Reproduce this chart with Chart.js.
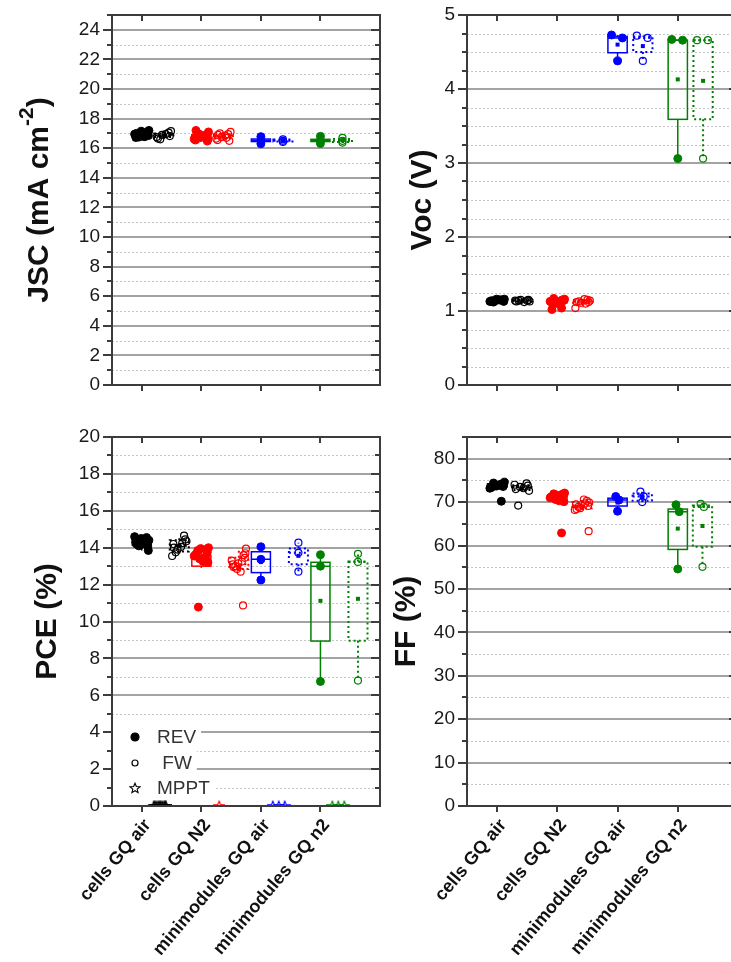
<!DOCTYPE html>
<html>
<head>
<meta charset="utf-8">
<title>GQ cells and minimodules</title>
<script src="https://cdn.jsdelivr.net/npm/chart.js@4.4.0/dist/chart.umd.min.js"></script>
<style>
  html, body { margin: 0; padding: 0; background: #fff; width: 731px; height: 962px; overflow: hidden; }
  canvas { position: absolute; }
</style>
</head>
<body>
<canvas id="jscChart" width="400" height="400" style="left:0;top:0"></canvas>
<canvas id="vocChart" width="380" height="400" style="left:380px;top:0"></canvas>
<canvas id="pceChart" width="400" height="542" style="left:0;top:420px"></canvas>
<canvas id="ffChart" width="380" height="542" style="left:380px;top:420px"></canvas>
<script>
const categories = ['cells GQ air', 'cells GQ N2', 'minimodules GQ air', 'minimodules GQ n2'];
const groupColors = ['#000000', '#ff0000', '#0000ff', '#008000'];
const legendLabels = ['REV', ' FW', 'MPPT'];

// Jsc (mA cm-2), one list per group
const jscRev = [
  [16.72, 17.05, 16.88, 17.2, 16.95, 16.8, 17.12, 16.9, 16.78, 17.0, 16.85, 17.15, 16.92, 16.75],
  [16.55, 16.9, 16.7, 17.1, 16.62, 16.85, 16.48, 16.95, 16.75, 17.2, 16.6, 16.8, 16.68, 16.98],
  [16.78, 16.52, 16.3],
  [16.8, 16.5, 16.32]
];
const jscFw = [
  [16.65, 17.05, 16.9, 17.15, 16.75, 16.95, 16.82, 16.6],
  [16.55, 16.95, 16.75, 17.1, 16.65, 16.85, 16.5, 17.0, 16.7, 16.9],
  [16.6, 16.5, 16.42],
  [16.7, 16.5, 16.38]
];
// box stats: q1, median, q3, whisker low, whisker high, mean
const jscRevBox = [[16.8, 16.9, 17.05, 16.72, 17.2, 16.92], [16.62, 16.75, 16.92, 16.48, 17.2, 16.77], [16.45, 16.52, 16.62, 16.3, 16.78, 16.53], [16.45, 16.5, 16.6, 16.32, 16.8, 16.54]];
const jscFwBox = [[16.75, 16.88, 17.0, 16.6, 17.15, 16.86], [16.65, 16.8, 16.95, 16.5, 17.1, 16.8], [16.45, 16.5, 16.58, 16.42, 16.6, 16.51], [16.42, 16.5, 16.62, 16.38, 16.7, 16.53]];

// Voc (V)
const vocRev = [
  [1.13, 1.15, 1.14, 1.16, 1.13, 1.15, 1.14, 1.12, 1.15, 1.14, 1.13, 1.16],
  [1.12, 1.15, 1.1, 1.16, 1.13, 1.11, 1.14, 1.17, 1.12, 1.02, 1.15, 1.13, 1.04, 1.11],
  [4.73, 4.69, 4.38],
  [4.67, 4.66, 3.06]
];
const vocFw = [
  [1.13, 1.14, 1.15, 1.13, 1.14, 1.12, 1.15, 1.14],
  [1.12, 1.15, 1.11, 1.14, 1.04, 1.16, 1.12, 1.13, 1.1],
  [4.72, 4.69, 4.38],
  [4.66, 4.66, 3.06]
];
const vocRevBox = [[1.13, 1.14, 1.15, 1.12, 1.16, 1.14], [1.11, 1.13, 1.15, 1.08, 1.17, 1.12], [4.49, 4.69, 4.71, 4.38, 4.73, 4.6], [3.59, 4.66, 4.66, 3.06, 4.67, 4.13]];
const vocFwBox = [[1.13, 1.14, 1.15, 1.12, 1.15, 1.14], [1.11, 1.13, 1.15, 1.04, 1.16, 1.12], [4.5, 4.69, 4.71, 4.38, 4.72, 4.58], [3.59, 4.66, 4.66, 3.06, 4.66, 4.11]];

// PCE (%)
const pceRev = [
  [14.3, 14.55, 14.15, 14.4, 14.6, 14.25, 14.05, 14.45, 14.35, 14.2, 13.85, 14.5, 14.3, 14.1],
  [13.6, 13.9, 13.4, 14.0, 13.55, 13.25, 13.75, 13.85, 13.45, 13.65, 13.2, 13.95, 13.5, 10.78],
  [14.05, 13.37, 12.25],
  [13.62, 13.0, 6.75]
];
const pceFw = [
  [14.2, 14.65, 13.9, 14.35, 13.55, 14.05, 14.45, 13.75, 14.25, 14.0],
  [13.1, 13.6, 12.85, 13.95, 13.3, 12.7, 13.45, 13.0, 13.25, 12.95, 13.7, 13.15, 10.87],
  [14.27, 13.72, 12.7],
  [13.67, 13.23, 6.8]
];
const pceMppt = [[0, 0, 0, 0, 0, 0, 0, 0, 0, 0], [0], [0, 0, 0], [0, 0, 0]];
const pceRevBox = [[14.15, 14.3, 14.45, 13.85, 14.65, 14.27], [13.0, 13.4, 13.58, 12.9, 14.0, 13.28], [12.65, 13.37, 13.78, 12.25, 14.05, 13.22], [8.94, 13.0, 13.21, 6.75, 13.62, 11.12]];
const pceFwBox = [[13.8, 14.1, 14.4, 13.55, 14.65, 14.1], [12.85, 13.1, 13.45, 12.7, 13.95, 12.95], [13.1, 13.72, 13.95, 12.7, 14.27, 13.56], [8.96, 13.23, 13.25, 6.8, 13.67, 11.23]];

// FF (%)
const ffRev = [
  [73.5, 74.2, 73.8, 74.6, 73.2, 74.0, 73.6, 74.4, 73.9, 73.4, 74.1, 73.7, 70.2],
  [71.2, 71.8, 70.6, 72.1, 71.0, 70.3, 71.5, 71.9, 70.8, 71.3, 70.1, 71.6, 62.9],
  [71.3, 70.5, 67.9],
  [69.4, 67.8, 54.6]
];
const ffFw = [
  [73.0, 74.3, 73.5, 72.6, 74.0, 73.2, 73.8, 69.2],
  [69.5, 70.3, 68.6, 69.9, 68.2, 70.6, 69.1, 68.9, 69.7, 68.4, 63.3],
  [72.4, 71.3, 70.0],
  [69.6, 68.9, 55.1]
];
const ffRevBox = [[73.4, 73.8, 74.2, 73.0, 74.7, 73.6], [70.6, 71.2, 71.7, 70.0, 72.2, 70.9], [69.1, 70.5, 70.9, 67.9, 71.3, 69.9], [59.1, 67.8, 68.4, 54.6, 69.4, 63.9]];
const ffFwBox = [[72.8, 73.4, 73.9, 72.5, 74.4, 73.2], [68.6, 69.3, 70.0, 68.1, 70.7, 68.9], [70.3, 71.3, 72.0, 70.0, 72.4, 71.2], [59.7, 68.9, 69.2, 55.1, 69.6, 64.5]];

// horizontal scatter of the points around their column
const jitterCells = [-0.1, 0.08, -0.03, 0.12, -0.12, 0.03, 0.1, -0.06, 0.05, -0.09, 0.11, -0.01, 0.07, -0.05];
const jitterModules = [-0.1, 0.08, 0];
const jitterMppt = [0, -0.1, 0.1, -0.05, 0.05, -0.08, 0.08, -0.02, 0.02, 0.1];

const FONT = '"Liberation Sans", Arial, sans-serif';
Chart.defaults.font.family = FONT;

// open five-point star marker, one small canvas per colour
function starMarker(color) {
  const c = document.createElement('canvas');
  c.width = 12; c.height = 12;
  const g = c.getContext('2d');
  g.strokeStyle = color;
  g.lineWidth = 1.1;
  g.beginPath();
  for (let k = 0; k < 10; k++) {
    const r = k % 2 ? 2.3 : 5.2;
    const ang = -Math.PI / 2 + k * Math.PI / 5;
    const px = 6 + r * Math.cos(ang), py = 6.4 + r * Math.sin(ang);
    k ? g.lineTo(px, py) : g.moveTo(px, py);
  }
  g.closePath();
  g.stroke();
  return c;
}
const stars = groupColors.map(starMarker);

const panelPlugin = {
  id: 'panel',
  beforeDatasetsDraw(chart, args, o) {
    const { ctx, chartArea: a, scales: { x, y } } = chart;
    const isMajor = v => Math.abs(v / o.major - Math.round(v / o.major)) < 1e-6;
    ctx.save();
    // dotted minor grid
    ctx.strokeStyle = '#c6c6c6';
    ctx.lineWidth = 1;
    ctx.setLineDash([2, 2]);
    for (let v = o.minor; v < o.max - 1e-6; v += o.minor) {
      if (isMajor(v)) continue;
      const py = Math.round(y.getPixelForValue(v)) + 0.5;
      ctx.beginPath(); ctx.moveTo(a.left, py); ctx.lineTo(a.right, py); ctx.stroke();
    }
    // solid major grid
    ctx.setLineDash([]);
    ctx.strokeStyle = '#a3a3a3';
    ctx.lineWidth = 2;
    for (let v = o.major; v < o.max - 1e-6; v += o.major) {
      const py = Math.round(y.getPixelForValue(v));
      ctx.beginPath(); ctx.moveTo(a.left, py); ctx.lineTo(a.right, py); ctx.stroke();
    }
    // legend block sits on a white patch over the grid
    if (o.legend) {
      ctx.font = '19px ' + FONT;
      ctx.textBaseline = 'middle';
      const rows = [69, 43, 18];
      const styles = [
        { pointStyle: 'circle', radius: 4, fill: true },
        { pointStyle: 'circle', radius: 3, fill: false },
        { pointStyle: stars[0], radius: 5, fill: false }
      ];
      legendLabels.forEach((label, i) => {
        const cy = a.bottom - rows[i];
        const tx = a.left + 45;
        const w = ctx.measureText(label).width;
        ctx.fillStyle = '#fff';
        ctx.fillRect(a.left + 1, cy - 12, tx + w + 4 - a.left, 24);
        ctx.fillStyle = '#333';
        ctx.fillText(label, tx, cy + 1);
        ctx.fillStyle = styles[i].fill ? '#000' : 'rgba(0,0,0,0)';
        ctx.strokeStyle = '#000';
        ctx.lineWidth = 1.2;
        Chart.helpers.drawPoint(ctx, { pointStyle: styles[i].pointStyle, radius: styles[i].radius, rotation: 0, borderWidth: 1.2 }, a.left + 23, cy);
      });
    }
    // boxes: q1..q3 with median, mean and whiskers
    const drawBox = (cx, s, color, dotted) => {
      const half = 0.16;
      const l = x.getPixelForValue(cx - half), r = x.getPixelForValue(cx + half);
      const c = x.getPixelForValue(cx);
      const [q1, med, q3, lo, hi, mean] = s.map(v => y.getPixelForValue(v));
      ctx.strokeStyle = color;
      ctx.fillStyle = color;
      ctx.lineWidth = dotted ? 2 : 1.5;
      ctx.setLineDash(dotted ? [2, 3] : []);
      ctx.strokeRect(l, q3, r - l, q1 - q3);
      ctx.beginPath();
      ctx.moveTo(l, med); ctx.lineTo(r, med);
      ctx.moveTo(c, q1); ctx.lineTo(c, lo);
      ctx.moveTo(c, q3); ctx.lineTo(c, hi);
      ctx.stroke();
      ctx.setLineDash([]);
      ctx.fillRect(c - 2, mean - 2, 4, 4);
    };
    o.revBox.forEach((s, i) => drawBox(i + 1, s, groupColors[i], false));
    o.fwBox.forEach((s, i) => drawBox(i + 1 + o.fwShift, s, groupColors[i], true));
    ctx.restore();
  },
  afterDatasetsDraw(chart, args, o) {
    const { ctx, chartArea: a, scales: { x, y } } = chart;
    const isMajor = v => Math.abs(v / o.major - Math.round(v / o.major)) < 1e-6;
    ctx.save();
    ctx.strokeStyle = '#3c3c3c';
    ctx.lineWidth = 2;
    ctx.strokeRect(a.left, a.top, a.right - a.left, a.bottom - a.top);
    ctx.beginPath();
    for (let v = 0; v <= o.max + 1e-6; v += o.minor) {
      const py = Math.round(y.getPixelForValue(v));
      const len = isMajor(v) ? 9 : 5;
      ctx.moveTo(a.left - len, py); ctx.lineTo(a.left, py);
      ctx.moveTo(a.right, py); ctx.lineTo(a.right - len, py);
    }
    categories.forEach((c, i) => {
      const px = Math.round(x.getPixelForValue(i + 1));
      ctx.moveTo(px, a.top); ctx.lineTo(px, a.top + 6);
      ctx.moveTo(px, a.bottom); ctx.lineTo(px, a.bottom + 6);
    });
    ctx.stroke();
    ctx.restore();
  },
  afterDraw(chart, args, o) {
    // y-axis title, with optional superscript piece
    const { ctx, chartArea: a } = chart;
    ctx.save();
    ctx.translate(o.titleX, (a.top + a.bottom) / 2);
    ctx.rotate(-Math.PI / 2);
    ctx.fillStyle = '#111';
    ctx.textBaseline = 'middle';
    const big = 'bold 30px ' + FONT, small = 'bold 21px ' + FONT;
    let total = 0;
    o.title.forEach(([t, sup]) => { ctx.font = sup ? small : big; total += ctx.measureText(t).width; });
    let u = -total / 2;
    o.title.forEach(([t, sup]) => {
      ctx.font = sup ? small : big;
      ctx.fillText(t, u, sup ? -13 : 0);
      u += ctx.measureText(t).width;
    });
    ctx.restore();
  }
};

function buildPanel(p) {
  const datasets = [];
  const spreadOf = i => i < 2 ? jitterCells : jitterModules.map(j => j * p.moduleSpread);
  p.rev.forEach((vals, i) => {
    const jit = spreadOf(i);
    datasets.push({
      data: vals.map((v, k) => ({ x: i + 1 + jit[k % jit.length], y: v })),
      pointStyle: 'circle', pointRadius: 4, pointBorderWidth: 1,
      backgroundColor: groupColors[i], borderColor: groupColors[i]
    });
  });
  p.fw.forEach((vals, i) => {
    const jit = spreadOf(i);
    datasets.push({
      data: vals.map((v, k) => ({ x: i + 1 + p.fwShift + jit[k % jit.length], y: v })),
      pointStyle: 'circle', pointRadius: 3.5, pointBorderWidth: 1.2,
      backgroundColor: 'rgba(255,255,255,0)', borderColor: groupColors[i]
    });
  });
  (p.mppt || []).forEach((vals, i) => {
    datasets.push({
      data: vals.map((v, k) => ({ x: i + 1 + 0.3 + jitterMppt[k % jitterMppt.length], y: v })),
      pointStyle: stars[i], pointRadius: 5, clip: 0,
      backgroundColor: 'rgba(255,255,255,0)', borderColor: groupColors[i]
    });
  });

  new Chart(document.getElementById(p.id), {
    type: 'scatter',
    data: { datasets },
    options: {
      responsive: false,
      animation: false,
      layout: { padding: p.padding },
      plugins: {
        legend: { display: false },
        tooltip: { enabled: false },
        panel: p
      },
      scales: {
        x: {
          type: 'linear', min: 0.5, max: 5,
          afterBuildTicks: s => { s.ticks = categories.map((c, i) => ({ value: i + 1 })); },
          afterFit: s => { s.height = p.xHeight; s.paddingLeft = 0; s.paddingRight = 0; },
          grid: { display: false, drawTicks: false },
          border: { display: false },
          ticks: {
            display: p.labels, autoSkip: false, minRotation: 50, maxRotation: 50, padding: 9, labelOffset: 6,
            color: '#111', font: { size: 18, weight: 'bold' },
            callback: (v, idx) => categories[idx]
          }
        },
        y: {
          min: 0, max: p.max,
          afterFit: s => { s.width = p.yWidth; s.paddingTop = 0; s.paddingBottom = 0; },
          grid: { display: false, drawTicks: false },
          border: { display: false },
          ticks: { stepSize: p.major, includeBounds: false, padding: 12, color: '#1a1a1a', font: { size: 19 } }
        }
      }
    },
    plugins: [panelPlugin]
  });
}

buildPanel({
  id: 'jscChart', rev: jscRev, fw: jscFw, revBox: jscRevBox, fwBox: jscFwBox,
  max: 25, major: 2, minor: 1, fwShift: 0.37, moduleSpread: 0,
  title: [['JSC (mA cm'], ['-2', true], [')']], titleX: 40,
  labels: false, padding: { top: 15, right: 20, bottom: 0, left: 0 }, yWidth: 112, xHeight: 15
});
buildPanel({
  id: 'vocChart', rev: vocRev, fw: vocFw, revBox: vocRevBox, fwBox: vocFwBox,
  max: 5, major: 1, minor: 0.25, fwShift: 0.42, moduleSpread: 1,
  title: [['Voc (V)']], titleX: 43,
  labels: false, padding: { top: 15, right: 22, bottom: 0, left: 0 }, yWidth: 87, xHeight: 15
});
buildPanel({
  id: 'pceChart', rev: pceRev, fw: pceFw, mppt: pceMppt, revBox: pceRevBox, fwBox: pceFwBox,
  max: 20, major: 2, minor: 1, fwShift: 0.63, moduleSpread: 0, legend: true,
  title: [['PCE (%)']], titleX: 48,
  labels: true, padding: { top: 17, right: 20, bottom: 0, left: 0 }, yWidth: 112, xHeight: 156
});
buildPanel({
  id: 'ffChart', rev: ffRev, fw: ffFw, revBox: ffRevBox, fwBox: ffFwBox,
  max: 85, major: 10, minor: 5, fwShift: 0.41, moduleSpread: 0.3,
  title: [['FF (%)']], titleX: 27,
  labels: true, padding: { top: 17, right: 22, bottom: 0, left: 0 }, yWidth: 87, xHeight: 156
});
</script>
</body>
</html>
